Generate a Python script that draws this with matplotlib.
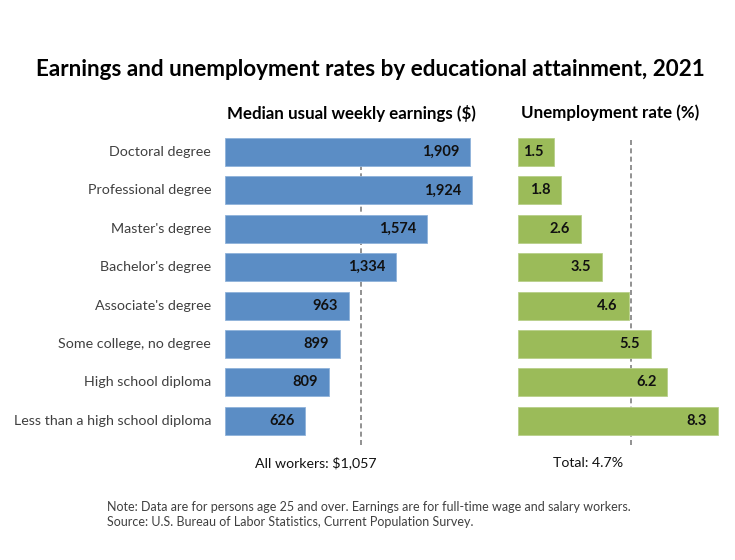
import matplotlib
matplotlib.use("Agg")
import matplotlib.pyplot as plt

categories = ["Doctoral degree", "Professional degree", "Master's degree",
              "Bachelor's degree", "Associate's degree", "Some college, no degree",
              "High school diploma", "Less than a high school diploma"]
earnings = [1909, 1924, 1574, 1334, 963, 899, 809, 626]
unemployment = [1.5, 1.8, 2.6, 3.5, 4.6, 5.5, 6.2, 8.3]
all_workers = 1057
total_rate = 4.7

W, H = 735, 560
FONT = ["Lato", "DejaVu Sans"]
plt.rcParams['font.family'] = FONT

fig = plt.figure(figsize=(W / 100, H / 100), dpi=100)

def px_axes(x0, y_top, w, h):
    return fig.add_axes([x0 / W, 1 - (y_top + h) / H, w / W, h / H])

ax1 = px_axes(225, 128, 256.6, 317)
ax2 = px_axes(518, 128, 202.4, 317)

blue = "#5B8DC5"
green = "#9BBB59"
ypos = list(range(len(categories)))

for ax in (ax1, ax2):
    ax.set_ylim(7.63, -0.625)
    for s in ax.spines.values():
        s.set_visible(False)
    ax.set_xticks([])
    ax.set_yticks([])
    ax.patch.set_alpha(0)

ax1.set_xlim(0, 2000)
ax2.set_xlim(0, 8.4)

ax1.vlines(all_workers, -0.31, 7.63, colors="#7f7f7f", linestyles=(0, (3, 2)), linewidth=1.2, zorder=1)
ax2.vlines(total_rate, -0.31, 7.63, colors="#7f7f7f", linestyles=(0, (3, 2)), linewidth=1.2, zorder=1)

ax1.barh(ypos, earnings, height=0.73, color=blue, edgecolor="#8fb2da", linewidth=0.6, zorder=2)
ax2.barh(ypos, unemployment, height=0.73, color=green, edgecolor="#b8d08a", linewidth=0.6, zorder=2)

for y, v in zip(ypos, earnings):
    ax1.annotate(f"{v:,}", (v, y), xytext=(-11, 0), textcoords="offset pixels",
                 ha="right", va="center", fontsize=10.5, fontweight="bold", color="#111111", zorder=3)
for y, v in zip(ypos, unemployment):
    ax2.annotate(f"{v:.1f}", (v, y), xytext=(-11, 0), textcoords="offset pixels",
                 ha="right", va="center", fontsize=10.5, fontweight="bold", color="#111111", zorder=3)

for y, c in zip(ypos, categories):
    ax1.annotate(c, (0, y), xytext=(-14, 0), textcoords="offset pixels",
                 ha="right", va="center", fontsize=10.3, color="#404040",
                 xycoords=("axes fraction", "data"))

def ftext(x, y, s, **kw):
    fig.text(x / W, 1 - y / H, s, **kw)

ftext(370, 70, "Earnings and unemployment rates by educational attainment, 2021",
      ha="center", va="center", fontsize=16.2, fontweight="bold", color="#000000")
ftext(351, 113, "Median usual weekly earnings ($)", ha="center", va="center",
      fontsize=12.2, fontweight="bold", color="#000000")
ftext(610, 113, "Unemployment rate (%)", ha="center", va="center",
      fontsize=12.2, fontweight="bold", color="#000000")
ftext(316, 463, f"All workers: ${all_workers:,}", ha="center", va="center",
      fontsize=10.2, color="#111111")
ftext(588, 463, f"Total: {total_rate}%", ha="center", va="center",
      fontsize=10.2, color="#111111")
ftext(107, 507, "Note: Data are for persons age 25 and over. Earnings are for full-time wage and salary workers.",
      ha="left", va="center", fontsize=9, color="#404040")
ftext(107, 522, "Source: U.S. Bureau of Labor Statistics, Current Population Survey.",
      ha="left", va="center", fontsize=9, color="#404040")

fig.savefig("out.png", dpi=100, facecolor="white")
